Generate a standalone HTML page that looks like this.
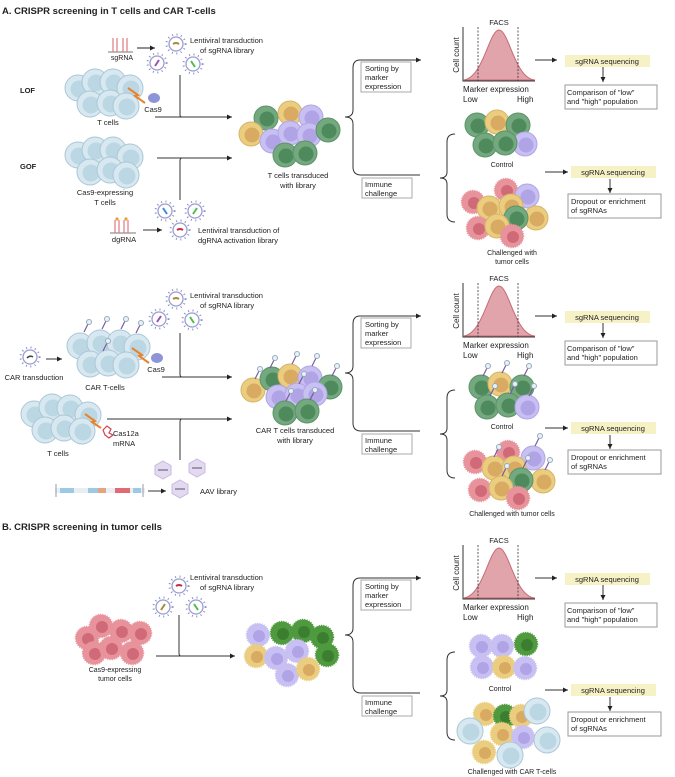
<!DOCTYPE html>
<html><head><meta charset="utf-8"><style>
html,body{margin:0;padding:0;background:#fff}
svg{display:block}
text{font-family:"Liberation Sans",sans-serif;fill:#222}
.b{font-weight:bold}
</style></head><body>
<svg width="675" height="777" viewBox="0 0 675 777" xmlns="http://www.w3.org/2000/svg">
<defs>
<marker id="ah" markerWidth="6" markerHeight="6" refX="5" refY="3" orient="auto"><path d="M0,0.5 L5,3 L0,5.5 Z" fill="#222"/></marker>
<g id="tc"><circle r="13" fill="#d7e8f0" stroke="#aac7d6" stroke-width="1"/><circle cx="1" cy="1" r="8.5" fill="#bcd7e4"/></g>
<g id="gc"><circle r="12" fill="#74a87f" stroke="#5c9468"/><circle cx="1" cy="1" r="7.5" fill="#4e8a5c"/></g>
<g id="yc"><circle r="12" fill="#ebcd7f" stroke="#d8b466"/><circle cx="1" cy="1" r="7.5" fill="#d9aa62"/></g>
<g id="pc"><circle r="12" fill="#c8bff2" stroke="#b1a6e6"/><circle cx="1" cy="1" r="7.5" fill="#b0a4e6"/></g>
<g id="rc"><circle r="11.5" fill="#e8939c" stroke="#e8939c" stroke-width="1.6" stroke-dasharray="1 1.3"/><circle cx="1" cy="1" r="6" fill="#d06a78"/></g>
<g id="tg"><circle r="11.5" fill="#4f9a3f" stroke="#4f9a3f" stroke-width="1.6" stroke-dasharray="1 1.3"/><circle cx="1" cy="1" r="6" fill="#3c7e30"/></g>
<g id="tp"><circle r="11.5" fill="#c8bff2" stroke="#c8bff2" stroke-width="1.6" stroke-dasharray="1 1.3"/><circle cx="1" cy="1" r="6" fill="#b0a4e6"/></g>
<g id="ty"><circle r="11.5" fill="#ebcd7f" stroke="#ebcd7f" stroke-width="1.6" stroke-dasharray="1 1.3"/><circle cx="1" cy="1" r="6" fill="#d9aa62"/></g>
<g id="vir"><circle r="9.5" fill="none" stroke="#8c90c6" stroke-width="2" stroke-dasharray="1 3.5"/><circle r="7" fill="#fff" stroke="#9a9dd0" stroke-width="1.3"/></g>
<g id="car"><line x1="0" y1="-4" x2="4" y2="-12" stroke="#7a5aa0" stroke-width="1.2"/><circle cx="5" cy="-14" r="2.5" fill="#e6f2f8" stroke="#9ab"/></g>
<g id="aav"><polygon points="0,-9 8,-4.5 8,4.5 0,9 -8,4.5 -8,-4.5" fill="#e3d9f0" stroke="#c9b8e2"/><line x1="-5" y1="0" x2="5" y2="0" stroke="#556" stroke-width="1"/></g>
</defs>

<text x="2" y="14" class="b" font-size="9.5">A. CRISPR screening in T cells and CAR T-cells</text>
<text x="20" y="93" class="b" font-size="7.5">LOF</text>
<text x="20" y="169" class="b" font-size="7.5">GOF</text>
<path d="M108,52 H133" stroke="#777" stroke-width="1"/>
<path d="M113,52 V38 M117,52 V38 M123,52 V38 M127,52 V38" stroke="#e07a80" stroke-width="1.2"/>
<text x="122" y="60" font-size="7" text-anchor="middle">sgRNA</text>
<line x1="137" y1="48" x2="155" y2="48" stroke="#222" marker-end="url(#ah)"/>
<use href="#vir" x="176" y="44"/><use href="#vir" x="157" y="63"/><use href="#vir" x="193" y="64"/>
<path d="M173,44 q3,-2 6,0" stroke="#a88a3a" stroke-width="2" fill="none"/>
<path d="M155,66 q2,-3 4,-6" stroke="#9b4fbf" stroke-width="2" fill="none"/>
<path d="M191,61 q2,3 4,6" stroke="#4cbf4c" stroke-width="2" fill="none"/>
<text x="190" y="43" font-size="7.5">Lentiviral transduction</text>
<text x="200" y="53" font-size="7.5">of sgRNA  library</text>
<use href="#tc" x="78" y="88"/><use href="#tc" x="95" y="82"/><use href="#tc" x="113" y="82"/><use href="#tc" x="130" y="88"/><use href="#tc" x="90" y="104"/><use href="#tc" x="110" y="103"/><use href="#tc" x="126" y="106"/>
<path d="M128,88 L138,95 L135,96 L145,103" stroke="#e8832a" stroke-width="2" fill="none"/>
<ellipse cx="154" cy="98" rx="6" ry="5" fill="#8d94d8"/>
<text x="153" y="112" font-size="7.5" text-anchor="middle">Cas9</text>
<text x="108" y="125" font-size="7.5" text-anchor="middle">T cells</text>
<path d="M180,75 V115 Q180,117 182,117" stroke="#333" fill="none"/>
<line x1="155" y1="117" x2="232" y2="117" stroke="#333" marker-end="url(#ah)"/>
<use href="#tc" x="78" y="155"/><use href="#tc" x="95" y="150"/><use href="#tc" x="113" y="150"/><use href="#tc" x="130" y="157"/><use href="#tc" x="90" y="172"/><use href="#tc" x="110" y="170"/><use href="#tc" x="126" y="175"/>
<text x="105" y="195" font-size="7.5" text-anchor="middle">Cas9-expressing</text>
<text x="105" y="205" font-size="7.5" text-anchor="middle">T cells</text>
<line x1="157" y1="158" x2="232" y2="158" stroke="#333" marker-end="url(#ah)"/>
<path d="M180,200 V161 Q180,158 182,158" stroke="#333" fill="none"/>
<use href="#vir" x="165" y="211"/><use href="#vir" x="195" y="211"/><use href="#vir" x="180" y="230"/>
<path d="M163,208 q2,3 4,6" stroke="#3f8ed0" stroke-width="2" fill="none"/>
<path d="M193,214 q2,-3 4,-6" stroke="#4cbf4c" stroke-width="2" fill="none"/>
<path d="M177,230 q3,-2 6,0" stroke="#c03040" stroke-width="2" fill="none"/>
<path d="M110,233 H136" stroke="#777"/>
<path d="M115,233 V220 M119,233 V220 M124,233 V220 M128,233 V220" stroke="#e07a80" stroke-width="1.2"/>
<circle cx="117" cy="219" r="1.6" fill="#e8a030"/><circle cx="126" cy="219" r="1.6" fill="#e8a030"/>
<text x="124" y="242" font-size="7.5" text-anchor="middle">dgRNA</text>
<line x1="143" y1="230" x2="162" y2="230" stroke="#333" marker-end="url(#ah)"/>
<text x="198" y="233" font-size="7.5">Lentiviral transduction of</text>
<text x="198" y="243" font-size="7.5">dgRNA activation library</text>
<use href="#gc" x="266" y="118"/><use href="#yc" x="290" y="113"/><use href="#pc" x="311" y="117"/><use href="#yc" x="251" y="134"/><use href="#pc" x="272" y="141"/><use href="#pc" x="290" y="133"/><use href="#pc" x="309" y="135"/><use href="#gc" x="328" y="130"/><use href="#gc" x="285" y="155"/><use href="#gc" x="305" y="153"/>
<text x="298" y="178" font-size="7.5" text-anchor="middle">T cells transduced</text>
<text x="298" y="188" font-size="7.5" text-anchor="middle">with library</text>

<g id="rp0">
<path d="M420,60 H360 Q353,60 353,68 V110 Q353,117 345,117 Q353,117 353,124 V167 Q353,175 361,175 H420" stroke="#333" fill="none"/>
<line x1="410" y1="60" x2="421" y2="60" stroke="#333" marker-end="url(#ah)"/>
<rect x="361" y="62" width="50" height="30" fill="#fff" stroke="#aaa"/>
<rect x="362" y="178" width="50" height="20" fill="#fff" stroke="#aaa"/>
<path d="M463,27 V81 H535" stroke="#333" fill="none"/>
<path d="M463,80 C483,79 489,30 499,30 C509,30 515,79 535,80 Z" fill="#e1a4aa" stroke="#c86a76"/>
<line x1="478" y1="27" x2="478" y2="81" stroke="#333" stroke-dasharray="2 1.5" stroke-width="0.8"/>
<line x1="518" y1="27" x2="518" y2="81" stroke="#333" stroke-dasharray="2 1.5" stroke-width="0.8"/>
<line x1="535" y1="60" x2="557" y2="60" stroke="#333" marker-end="url(#ah)"/>
<rect x="565" y="55" width="85" height="12" fill="#f7f2c5"/>
<line x1="603" y1="67" x2="603" y2="82" stroke="#333" marker-end="url(#ah)"/>
<rect x="565" y="85" width="92" height="24" fill="#fff" stroke="#999"/>
<path d="M455,134 Q447,134 447,142 V172 Q447,178 440,178 Q447,178 447,184 V214 Q447,222 455,222" stroke="#333" fill="none"/>
<line x1="545" y1="172" x2="568" y2="172" stroke="#333" marker-end="url(#ah)"/>
<rect x="571" y="166" width="85" height="12" fill="#f7f2c5"/>
<line x1="610" y1="179" x2="610" y2="193" stroke="#333" marker-end="url(#ah)"/>
<rect x="568" y="194" width="93" height="24" fill="#fff" stroke="#999"/>
</g>
<use href="#rp0" y="256"/>
<use href="#rp0" y="518"/>

<g font-size="7.5">
<text x="365" y="71">Sorting by</text><text x="365" y="80">marker</text><text x="365" y="89">expression</text>
<text x="365" y="187">Immune</text><text x="365" y="196">challenge</text>
<text x="499" y="25" text-anchor="middle">FACS</text>
<text x="459" y="55" font-size="8" text-anchor="middle" transform="rotate(-90 459 55)">Cell count</text>
<text x="463" y="92" font-size="8">Marker expression</text>
<text x="463" y="102" font-size="8">Low</text><text x="517" y="102" font-size="8">High</text>
<text x="607" y="64" text-anchor="middle">sgRNA sequencing</text>
<text x="567" y="95">Comparison of "low"</text><text x="567" y="104">and "high" population</text>
<text x="613" y="175" text-anchor="middle">sgRNA sequencing</text>
<text x="571" y="204">Dropout or enrichment</text><text x="571" y="213">of sgRNAs</text>
</g>
<g font-size="7.5" transform="translate(0,256)">
<text x="365" y="71">Sorting by</text><text x="365" y="80">marker</text><text x="365" y="89">expression</text>
<text x="365" y="187">Immune</text><text x="365" y="196">challenge</text>
<text x="499" y="25" text-anchor="middle">FACS</text>
<text x="459" y="55" font-size="8" text-anchor="middle" transform="rotate(-90 459 55)">Cell count</text>
<text x="463" y="92" font-size="8">Marker expression</text>
<text x="463" y="102" font-size="8">Low</text><text x="517" y="102" font-size="8">High</text>
<text x="607" y="64" text-anchor="middle">sgRNA sequencing</text>
<text x="567" y="95">Comparison of "low"</text><text x="567" y="104">and "high" population</text>
<text x="613" y="175" text-anchor="middle">sgRNA sequencing</text>
<text x="571" y="204">Dropout or enrichment</text><text x="571" y="213">of sgRNAs</text>
</g>
<g font-size="7.5" transform="translate(0,518)">
<text x="365" y="71">Sorting by</text><text x="365" y="80">marker</text><text x="365" y="89">expression</text>
<text x="365" y="187">Immune</text><text x="365" y="196">challenge</text>
<text x="499" y="25" text-anchor="middle">FACS</text>
<text x="459" y="55" font-size="8" text-anchor="middle" transform="rotate(-90 459 55)">Cell count</text>
<text x="463" y="92" font-size="8">Marker expression</text>
<text x="463" y="102" font-size="8">Low</text><text x="517" y="102" font-size="8">High</text>
<text x="607" y="64" text-anchor="middle">sgRNA sequencing</text>
<text x="567" y="95">Comparison of "low"</text><text x="567" y="104">and "high" population</text>
<text x="613" y="175" text-anchor="middle">sgRNA sequencing</text>
<text x="571" y="204">Dropout or enrichment</text><text x="571" y="213">of sgRNAs</text>
</g>

<use href="#gc" x="477" y="125"/><use href="#yc" x="497" y="122"/><use href="#gc" x="518" y="125"/><use href="#pc" x="525" y="144"/><use href="#gc" x="485" y="145"/><use href="#gc" x="505" y="143"/>
<text x="502" y="167" font-size="7" text-anchor="middle">Control</text>
<use href="#rc" x="506" y="190"/><use href="#pc" x="527" y="196"/><use href="#rc" x="473" y="202"/><use href="#yc" x="489" y="208"/><use href="#yc" x="511" y="206"/><use href="#yc" x="536" y="218"/><use href="#gc" x="516" y="218"/><use href="#rc" x="478" y="228"/><use href="#yc" x="497" y="226"/><use href="#rc" x="512" y="236"/>
<text x="512" y="255" font-size="7" text-anchor="middle">Challenged with</text>
<text x="512" y="264" font-size="7" text-anchor="middle">tumor cells</text>

<use href="#vir" x="176" y="299"/><use href="#vir" x="159" y="319"/><use href="#vir" x="192" y="320"/>
<path d="M173,299 q3,-2 6,0" stroke="#a88a3a" stroke-width="2" fill="none"/>
<path d="M157,322 q2,-3 4,-6" stroke="#9b4fbf" stroke-width="2" fill="none"/>
<path d="M190,317 q2,3 4,6" stroke="#4cbf4c" stroke-width="2" fill="none"/>
<text x="190" y="298" font-size="7.5">Lentiviral transduction</text>
<text x="200" y="308" font-size="7.5">of sgRNA  library</text>
<use href="#vir" x="30" y="357"/><path d="M27,358 q3,-3 6,-1" stroke="#444" stroke-width="1.5" fill="none"/>
<line x1="46" y1="359" x2="62" y2="359" stroke="#333" marker-end="url(#ah)"/>
<text x="34" y="380" font-size="7.5" text-anchor="middle">CAR transduction</text>
<use href="#tc" x="80" y="346"/><use href="#tc" x="100" y="343"/><use href="#tc" x="120" y="343"/><use href="#tc" x="137" y="347"/><use href="#tc" x="90" y="364"/><use href="#tc" x="108" y="363"/><use href="#tc" x="126" y="365"/>
<use href="#car" x="84" y="336"/><use href="#car" x="102" y="333"/><use href="#car" x="121" y="333"/><use href="#car" x="136" y="337"/><use href="#car" x="103" y="355"/>
<path d="M132,348 L142,355 L139,356 L149,363" stroke="#e8832a" stroke-width="2" fill="none"/>
<ellipse cx="157" cy="358" rx="6" ry="5" fill="#8d94d8"/>
<text x="156" y="372" font-size="7.5" text-anchor="middle">Cas9</text>
<text x="105" y="390" font-size="7.5" text-anchor="middle">CAR T-cells</text>
<path d="M180,333 V374 Q180,377 182,377" stroke="#333" fill="none"/>
<line x1="162" y1="377" x2="232" y2="377" stroke="#333" marker-end="url(#ah)"/>
<use href="#tc" x="34" y="414"/><use href="#tc" x="52" y="407"/><use href="#tc" x="70" y="408"/><use href="#tc" x="88" y="415"/><use href="#tc" x="45" y="430"/><use href="#tc" x="64" y="428"/><use href="#tc" x="82" y="431"/>
<path d="M85,414 L95,421 L92,422 L101,428" stroke="#e8832a" stroke-width="2" fill="none"/>
<path d="M103,430 l4,-4 4,3 -2,4 4,2 -4,3 -4,-3 z" stroke="#d04050" fill="none" stroke-width="1.2"/>
<text x="113" y="436" font-size="7.5">Cas12a</text>
<text x="113" y="446" font-size="7.5">mRNA</text>
<text x="58" y="456" font-size="7.5" text-anchor="middle">T cells</text>
<line x1="107" y1="419" x2="232" y2="419" stroke="#333" marker-end="url(#ah)"/>
<path d="M180,460 V422 Q180,419 182,419" stroke="#333" fill="none"/>
<use href="#aav" x="163" y="470"/><use href="#aav" x="197" y="468"/><use href="#aav" x="180" y="489"/>
<text x="200" y="494" font-size="7.5">AAV library</text>
<rect x="55" y="488" width="90" height="5" fill="#e8eef2"/>
<rect x="60" y="488" width="14" height="5" fill="#9cc9e4"/><rect x="88" y="488" width="10" height="5" fill="#9cc9e4"/><rect x="98" y="488" width="8" height="5" fill="#e7a27f"/><rect x="115" y="488" width="15" height="5" fill="#e26a72"/><rect x="133" y="488" width="8" height="5" fill="#9cc9e4"/>
<path d="M56,484 V497 M143,484 V497" stroke="#99a" stroke-width="1"/>
<line x1="148" y1="491" x2="166" y2="491" stroke="#333" marker-end="url(#ah)"/>
<use href="#yc" x="253" y="390"/><use href="#gc" x="272" y="379"/><use href="#yc" x="290" y="376"/><use href="#pc" x="310" y="378"/><use href="#gc" x="330" y="387"/><use href="#pc" x="278" y="397"/><use href="#pc" x="297" y="395"/><use href="#pc" x="315" y="394"/><use href="#gc" x="285" y="413"/><use href="#gc" x="307" y="411"/>
<use href="#car" x="270" y="372"/><use href="#car" x="292" y="368"/><use href="#car" x="312" y="370"/><use href="#car" x="332" y="380"/><use href="#car" x="255" y="383"/><use href="#car" x="299" y="388"/><use href="#car" x="310" y="404"/><use href="#car" x="286" y="405"/>
<text x="295" y="433" font-size="7.5" text-anchor="middle">CAR T cells transduced</text>
<text x="295" y="443" font-size="7.5" text-anchor="middle">with library</text>
<use href="#gc" x="481" y="387"/><use href="#yc" x="500" y="384"/><use href="#gc" x="522" y="387"/><use href="#gc" x="487" y="407"/><use href="#gc" x="508" y="405"/><use href="#pc" x="527" y="407"/>
<use href="#car" x="483" y="380"/><use href="#car" x="502" y="377"/><use href="#car" x="524" y="380"/><use href="#car" x="490" y="400"/><use href="#car" x="510" y="398"/><use href="#car" x="529" y="400"/>
<text x="502" y="429" font-size="7" text-anchor="middle">Control</text>
<use href="#rc" x="508" y="452"/><use href="#pc" x="533" y="458"/><use href="#rc" x="475" y="462"/><use href="#yc" x="494" y="468"/><use href="#yc" x="514" y="468"/><use href="#yc" x="543" y="481"/><use href="#gc" x="521" y="480"/><use href="#rc" x="480" y="490"/><use href="#yc" x="501" y="488"/><use href="#rc" x="518" y="498"/>
<use href="#car" x="494" y="461"/><use href="#car" x="535" y="450"/><use href="#car" x="523" y="472"/><use href="#car" x="545" y="474"/><use href="#car" x="502" y="480"/>
<text x="512" y="516" font-size="7" text-anchor="middle">Challenged with tumor cells</text>

<text x="2" y="530" class="b" font-size="9.5">B. CRISPR screening in tumor cells</text>
<use href="#vir" x="179" y="586"/><use href="#vir" x="163" y="607"/><use href="#vir" x="196" y="607"/>
<path d="M176,586 q3,-2 6,0" stroke="#c03040" stroke-width="2" fill="none"/>
<path d="M161,610 q2,-3 4,-6" stroke="#a88a3a" stroke-width="2" fill="none"/>
<path d="M194,604 q2,3 4,6" stroke="#4cbf4c" stroke-width="2" fill="none"/>
<text x="190" y="580" font-size="7.5">Lentiviral transduction</text>
<text x="200" y="590" font-size="7.5">of sgRNA  library</text>
<use href="#rc" x="87" y="638"/><use href="#rc" x="101" y="626"/><use href="#rc" x="121" y="631"/><use href="#rc" x="140" y="633"/><use href="#rc" x="94" y="653"/><use href="#rc" x="111" y="648"/><use href="#rc" x="132" y="653"/>
<text x="115" y="672" font-size="7" text-anchor="middle">Cas9-expressing</text>
<text x="115" y="681" font-size="7" text-anchor="middle">tumor cells</text>
<path d="M179,615 V653 Q179,656 181,656" stroke="#333" fill="none"/>
<line x1="156" y1="656" x2="235" y2="656" stroke="#333" marker-end="url(#ah)"/>
<use href="#tp" x="258" y="635"/><use href="#tg" x="282" y="633"/><use href="#tg" x="303" y="631"/><use href="#tg" x="322" y="637"/><use href="#ty" x="256" y="656"/><use href="#tp" x="276" y="658"/><use href="#tp" x="297" y="651"/><use href="#tg" x="327" y="655"/><use href="#tp" x="287" y="675"/><use href="#ty" x="308" y="669"/>
<use href="#tp" x="481" y="646"/><use href="#tp" x="502" y="646"/><use href="#tg" x="526" y="644"/><use href="#tp" x="482" y="667"/><use href="#ty" x="504" y="667"/><use href="#tp" x="525" y="668"/>
<text x="500" y="691" font-size="7" text-anchor="middle">Control</text>
<use href="#ty" x="485" y="714"/><use href="#tg" x="505" y="716"/><use href="#ty" x="521" y="716"/><use href="#tc" x="537" y="711"/><use href="#tc" x="470" y="731"/><use href="#ty" x="502" y="734"/><use href="#tp" x="523" y="737"/><use href="#tc" x="547" y="740"/><use href="#ty" x="484" y="752"/><use href="#tc" x="510" y="755"/>
<text x="512" y="774" font-size="7" text-anchor="middle">Challenged with CAR T-cells</text>
</svg>
</body></html>
